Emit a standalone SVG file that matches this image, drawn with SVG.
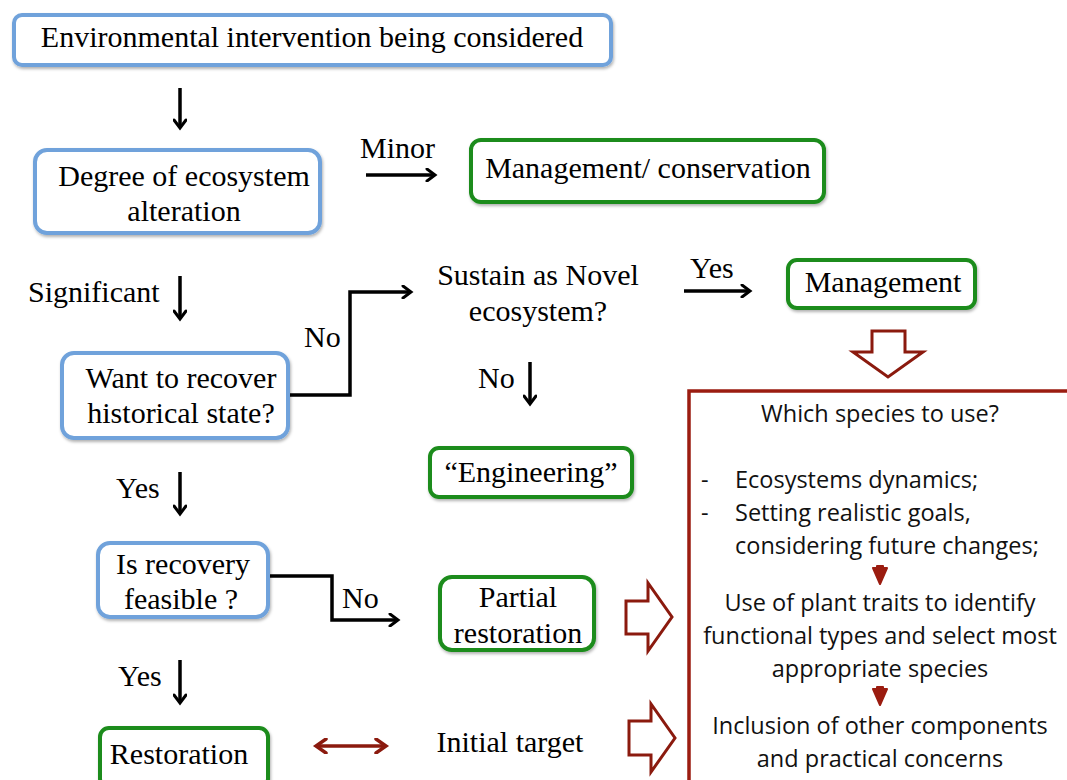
<svg xmlns="http://www.w3.org/2000/svg" width="1067" height="780" viewBox="0 0 1067 780">
<defs>
<marker id="ah" markerWidth="14" markerHeight="14" refX="10" refY="7" orient="auto" markerUnits="userSpaceOnUse">
<polyline points="2,1 10,7 2,13" fill="none" stroke="#000" stroke-width="3" stroke-linecap="round" stroke-linejoin="miter"/>
</marker>
<marker id="rh" markerWidth="16" markerHeight="16" refX="12" refY="8" orient="auto-start-reverse" markerUnits="userSpaceOnUse">
<polyline points="2,1 12,8 2,15" fill="none" stroke="#8b1a0e" stroke-width="3.5" stroke-linecap="round"/>
</marker>
<filter id="sh" x="-10%" y="-10%" width="120%" height="130%">
<feDropShadow dx="1" dy="2" stdDeviation="1.5" flood-color="#000" flood-opacity="0.3"/>
</filter>
</defs>
<style>
.bb{fill:#fff;stroke:#6fa2db;stroke-width:4;filter:url(#sh)}
.gb{fill:#fff;stroke:#1a8c1a;stroke-width:4;filter:url(#sh)}
.t{font-family:"Liberation Serif","Times New Roman",serif;font-size:30px;fill:#000}
.c{text-anchor:middle}
.s{font-family:"Open Sans",Lato,sans-serif;font-size:23.5px;fill:#111}
.ln{fill:none;stroke:#000;stroke-width:3.5}
.ra{fill:none;stroke:#8b1a0e;stroke-width:3;stroke-linejoin:miter}
</style>
<rect width="1067" height="780" fill="#fff"/>

<g id="connectors">
<line class="ln" x1="180" y1="88" x2="180" y2="128" marker-end="url(#ah)"/>
<line class="ln" x1="366" y1="175" x2="435" y2="175" marker-end="url(#ah)"/>
<line class="ln" x1="180" y1="276" x2="180" y2="319" marker-end="url(#ah)"/>
<polyline class="ln" points="290,395 350,395 350,292 411,292" marker-end="url(#ah)"/>
<line class="ln" x1="684" y1="291" x2="750" y2="291" marker-end="url(#ah)"/>
<line class="ln" x1="530" y1="362" x2="530" y2="404" marker-end="url(#ah)"/>
<line class="ln" x1="180" y1="472" x2="180" y2="514" marker-end="url(#ah)"/>
<polyline class="ln" points="270,576 332,576 332,620 398,620" marker-end="url(#ah)"/>
<line class="ln" x1="180" y1="660" x2="180" y2="703" marker-end="url(#ah)"/>
<line x1="316" y1="746" x2="386" y2="746" stroke="#8b1a0e" stroke-width="3.5" marker-start="url(#rh)" marker-end="url(#rh)"/>
<polygon class="ra" points="872,331 905,331 905,352 923,352 888,377 853,352 872,352"/>
<polygon class="ra" points="626,601 648,601 648,583 672,617 648,651 648,634 626,634"/>
<polygon class="ra" points="629,721 651,721 651,704 675,738 651,772 651,755 629,755"/>
</g>

<g id="n-env"><rect class="bb" x="14" y="15" width="597" height="50" rx="8"/><text class="t c" x="312" y="47">Environmental intervention being considered</text></g>
<g id="n-degree"><rect class="bb" x="35" y="150" width="285" height="83" rx="12"/><text class="t c" x="184" y="186">Degree of ecosystem</text><text class="t c" x="184" y="221">alteration</text></g>
<text class="t" x="360" y="158">Minor</text>
<g id="n-mgmtcons"><rect class="gb" x="471" y="140" width="353" height="62" rx="10"/><text class="t c" x="648" y="178">Management/ conservation</text></g>
<text class="t" x="28" y="302">Significant</text>
<g id="n-want"><rect class="bb" x="62" y="353" width="226" height="85" rx="12"/><text class="t c" x="181" y="388">Want to recover</text><text class="t c" x="181" y="423">historical state?</text></g>
<text class="t" x="304" y="347">No</text>
<g id="n-sustain"><text class="t c" x="538" y="285">Sustain as Novel</text><text class="t c" x="538" y="321">ecosystem?</text></g>
<text class="t" x="690" y="278">Yes</text>
<g id="n-mgmt"><rect class="gb" x="788" y="260" width="187" height="48" rx="9"/><text class="t c" x="883" y="292">Management</text></g>
<text class="t" x="478" y="388">No</text>
<g id="n-eng"><rect class="gb" x="430" y="448" width="202" height="49" rx="9"/><text class="t c" x="531" y="482">“Engineering”</text></g>
<text class="t" x="116" y="498">Yes</text>
<g id="n-feasible"><rect class="bb" x="98" y="543" width="170" height="74" rx="12"/><text class="t c" x="183" y="574">Is recovery</text><text class="t c" x="181" y="609">feasible ?</text></g>
<text class="t" x="342" y="608">No</text>
<g id="n-partial"><rect class="gb" x="440" y="577" width="154" height="73" rx="12"/><text class="t c" x="518" y="607">Partial</text><text class="t c" x="518" y="643">restoration</text></g>
<text class="t" x="118" y="686">Yes</text>
<g id="n-restoration"><rect class="gb" x="100" y="728" width="168" height="60" rx="9"/><text class="t c" x="179" y="764">Restoration</text></g>
<g id="n-initial"><text class="t c" x="510" y="752">Initial target</text></g>

<g id="n-species">
<polyline points="689,790 689,391 1070,391" fill="none" stroke="#9b1c10" stroke-width="3.5"/>
<text class="s c" x="880" y="422">Which species to use?</text>
<text class="s" x="701" y="488">-</text><text class="s" x="735" y="488">Ecosystems dynamics;</text>
<text class="s" x="701" y="521">-</text><text class="s" x="735" y="521">Setting realistic goals,</text>
<text class="s" x="735" y="554">considering future changes;</text>
<path d="M873,568 L887,568 L880,584 Z M877,566 h6 v6 h-6 Z" fill="#9b1c10" stroke="#9b1c10" stroke-width="2" stroke-linejoin="round"/>
<text class="s c" x="880" y="611">Use of plant traits to identify</text>
<text class="s c" x="880" y="644">functional types and select most</text>
<text class="s c" x="880" y="677">appropriate species</text>
<path d="M873,689 L887,689 L880,705 Z M877,687 h6 v6 h-6 Z" fill="#9b1c10" stroke="#9b1c10" stroke-width="2" stroke-linejoin="round"/>
<text class="s c" x="880" y="734">Inclusion of other components</text>
<text class="s c" x="880" y="767">and practical concerns</text>
</g>
</svg>
